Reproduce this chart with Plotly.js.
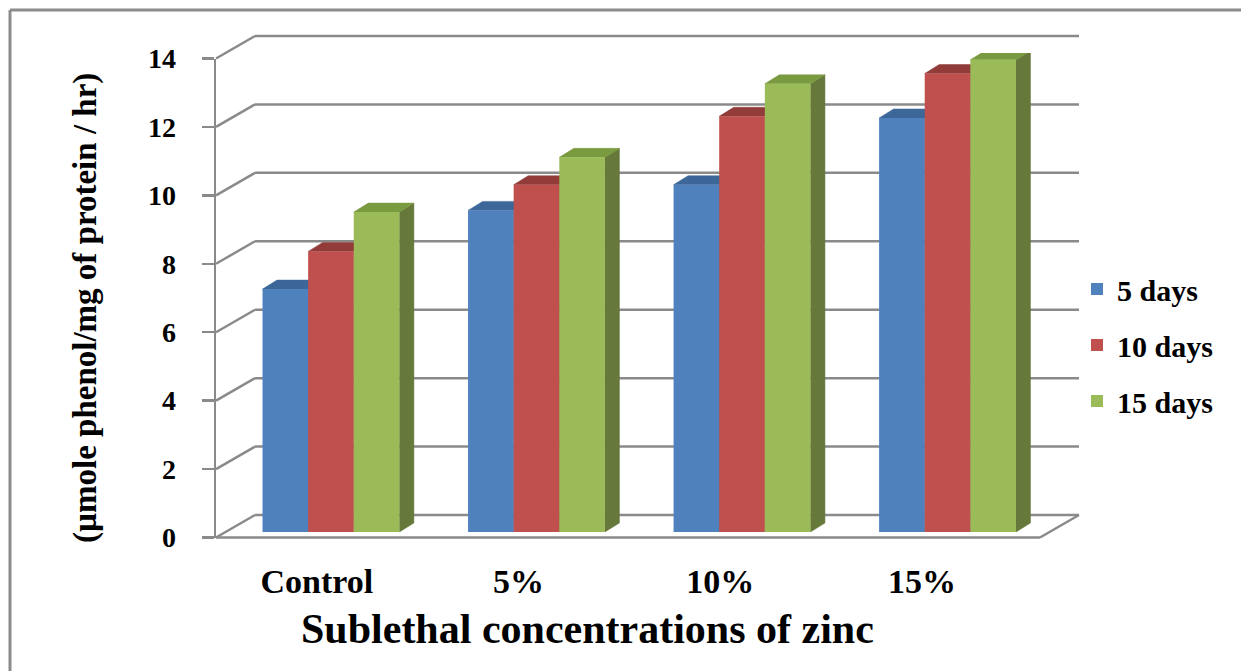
<!DOCTYPE html>
<html>
<head>
<meta charset="utf-8">
<script src="https://cdn.plot.ly/plotly-3.0.1.min.js"></script>
<style>html,body{margin:0;padding:0;background:#fff;overflow:hidden;}#chart{width:1241px;height:671px;}</style>
</head>
<body>
<div id="chart"></div>
<script>
// ---------- data ----------
const categories = ['Control', '5%', '10%', '15%'];
const seriesNames = ['5 days', '10 days', '15 days'];
const days5  = [7.1, 9.4, 10.15, 12.1];
const days10 = [8.2, 10.15, 12.15, 13.4];
const days15 = [9.35, 10.95, 13.1, 13.8];
const yTicks = [0, 2, 4, 6, 8, 10, 12, 14];
const xTitle = 'Sublethal concentrations of zinc';
const yTitle = '(µmole phenol/mg of protein / hr)';

// ---------- styling / geometry ----------
const W = 1241, H = 671;
const FONT = 'Liberation Serif, Times New Roman, serif';
const FRONT_X = 216, FRONT_Y0 = 537.5, FRONT_YTOP = 58.5;
const DEPTH_DX = 39, DEPTH_DY = 22.5, FLOOR_RIGHT = 1040;
const LABEL_X0 = 216, LABEL_X1 = 1023;
const BAR_X0 = 228.2, BAR_X1 = 1050.3, BAR_Y0 = 532;
const BAR_DX = 14.5, BAR_DY = 9;
const BARGAP = 0.334;
const frontColors = ['#4F81BD', '#C0504D', '#9BBB59'];
const topColors   = ['#3D6798', '#923C3A', '#7A9A40'];
const sideColors  = ['#37608F', '#853533', '#66793A'];
const gridColor = '#8a8a8a';

const px = x => x / W;
const py = y => 1 - y / H;
const yMax = yTicks[yTicks.length - 1];
const pxPerUnit = (FRONT_Y0 - FRONT_YTOP) / yMax;
const series = [days5, days10, days15];

// ---------- traces ----------
const traces = [];
const nS = series.length;
const bw = (1 - BARGAP) / nS;
const ddx = BAR_DX / ((BAR_X1 - BAR_X0) / categories.length);
const ddy = BAR_DY / pxPerUnit;

// hidden trace for the front (label) subplot
traces.push({x: categories.map((c, i) => i), y: categories.map(() => null), xaxis: 'x', yaxis: 'y',
  mode: 'markers', showlegend: false, hoverinfo: 'skip'});

// 3D faces (side and top), drawn below the bar fronts
series.forEach((vals, s) => {
  const sx = [], sy = [], tx = [], ty = [];
  vals.forEach((v, i) => {
    const xl = i + (s - (nS - 1) / 2) * bw - bw / 2;
    const xr = xl + bw;
    sx.push(xr, xr + ddx, xr + ddx, xr, xr, null);
    sy.push(0, ddy, v + ddy, v, 0, null);
    tx.push(xl, xr, xr + ddx, xl + ddx, xl, null);
    ty.push(v, v, v + ddy, v + ddy, v, null);
  });
  traces.push({x: sx, y: sy, xaxis: 'x2', yaxis: 'y2', mode: 'lines', fill: 'toself',
    fillcolor: sideColors[s], line: {color: sideColors[s], width: 0.5}, showlegend: false, hoverinfo: 'skip'});
  traces.push({x: tx, y: ty, xaxis: 'x2', yaxis: 'y2', mode: 'lines', fill: 'toself',
    fillcolor: topColors[s], line: {color: topColors[s], width: 0.5}, showlegend: false, hoverinfo: 'skip'});
});

// bar fronts
series.forEach((vals, s) => {
  traces.push({type: 'bar', name: seriesNames[s], x: categories.map((c, i) => i), y: vals,
    xaxis: 'x2', yaxis: 'y3', legendgroup: 'g' + s,
    marker: {color: frontColors[s], line: {width: 0}}, hovertext: categories, hoverinfo: 'name+y'});
});

// ---------- frame shapes ----------
const shapes = [];
const line = (x0, y0, x1, y1, w, c) => ({type: 'line', xref: 'paper', yref: 'paper', layer: 'below',
  x0: px(x0), y0: py(y0), x1: px(x1), y1: py(y1), line: {color: c || gridColor, width: w || 2.5}});
yTicks.forEach(v => {
  const yf = FRONT_Y0 - v * pxPerUnit;
  const yb = yf - DEPTH_DY;
  shapes.push(line(FRONT_X, yf, FRONT_X + DEPTH_DX, yb));
  shapes.push(line(FRONT_X + DEPTH_DX, yb, FLOOR_RIGHT + DEPTH_DX, yb));
});
shapes.push(line(FRONT_X, FRONT_Y0, FLOOR_RIGHT, FRONT_Y0));
shapes.push(line(FLOOR_RIGHT, FRONT_Y0, FLOOR_RIGHT + DEPTH_DX, FRONT_Y0 - DEPTH_DY));
// outer border (left and top edges only are inside the picture)
shapes.push(line(10, 10, 10, H, 3, '#8c8c8c'));
shapes.push(line(10, 10, W, 10, 3, '#8c8c8c'));

const layout = {
  width: W, height: H,
  margin: {l: 0, r: 0, t: 0, b: 0},
  paper_bgcolor: '#ffffff', plot_bgcolor: 'rgba(0,0,0,0)',
  barmode: 'group', bargap: BARGAP, bargroupgap: 0,
  showlegend: true,
  legend: {x: px(1077), xanchor: 'left', y: py(345), yanchor: 'middle',
    font: {family: FONT, size: 30, color: '#000', weight: 'bold'},
    bgcolor: 'rgba(0,0,0,0)', tracegroupgap: 14, itemclick: false, itemdoubleclick: false},
  xaxis: {domain: [px(LABEL_X0), px(LABEL_X1)], range: [-0.5, categories.length - 0.5],
    tickvals: categories.map((c, i) => i), ticktext: categories, ticks: '', showline: false,
    showgrid: false, zeroline: false, anchor: 'y', fixedrange: true, ticklabelstandoff: 20,
    tickfont: {family: FONT, size: 34, color: '#000', weight: 'bold'}},
  yaxis: {domain: [py(FRONT_Y0), py(FRONT_YTOP)], range: [0, yMax], tickvals: yTicks,
    ticks: 'outside', ticklen: 12, tickwidth: 2.5, tickcolor: gridColor,
    showline: true, linecolor: gridColor, linewidth: 2.5, showgrid: false, zeroline: false,
    anchor: 'x', fixedrange: true, ticklabelstandoff: 20,
    tickfont: {family: FONT, size: 28, color: '#000', weight: 'bold'}},
  xaxis2: {domain: [px(BAR_X0), px(BAR_X1)], range: [-0.5, categories.length - 0.5], visible: false,
    anchor: 'y2', fixedrange: true},
  yaxis2: {domain: [py(BAR_Y0), py(BAR_Y0 - yMax * pxPerUnit)], range: [0, yMax], visible: false,
    anchor: 'x2', fixedrange: true},
  yaxis3: {overlaying: 'y2', range: [0, yMax], visible: false, anchor: 'x2', fixedrange: true},
  shapes: shapes,
  annotations: [
    {text: yTitle, xref: 'paper', yref: 'paper', x: px(85), y: py(308), textangle: -90,
      showarrow: false, xanchor: 'center', yanchor: 'middle',
      font: {family: FONT, size: 33, color: '#000', weight: 'bold'}},
    {text: xTitle, xref: 'paper', yref: 'paper', x: px(587), y: py(629),
      showarrow: false, xanchor: 'center', yanchor: 'middle',
      font: {family: FONT, size: 42, color: '#000', weight: 'bold'}}
  ]
};

Plotly.newPlot('chart', traces, layout, {displayModeBar: false, staticPlot: true});
</script>
</body>
</html>
